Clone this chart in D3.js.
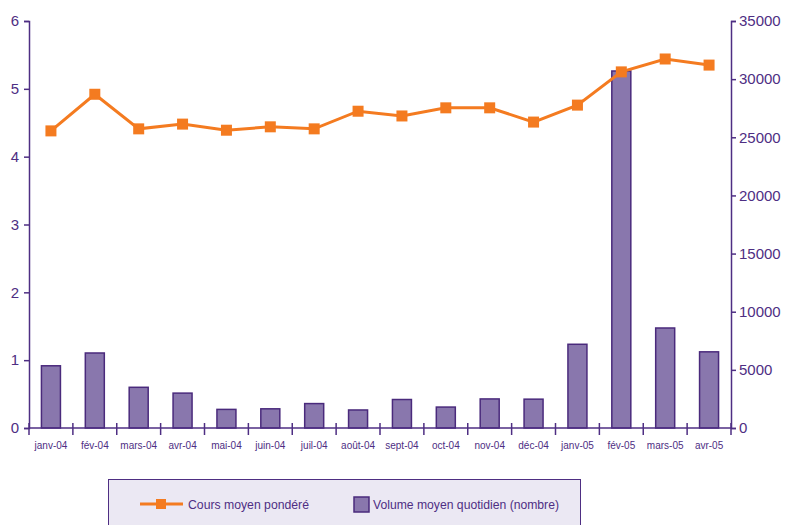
<!DOCTYPE html>
<html><head><meta charset="utf-8">
<script src="https://cdn.jsdelivr.net/npm/d3@7"></script>
<style>body{margin:0;background:#fff}svg{display:block;font-family:"Liberation Sans",Arial,sans-serif}</style>
</head><body>
<script>
const categories = ["janv-04","fév-04","mars-04","avr-04","mai-04","juin-04","juil-04","août-04","sept-04","oct-04","nov-04","déc-04","janv-05","fév-05","mars-05","avr-05"];
const cours = [4.38,4.92,4.41,4.48,4.39,4.44,4.41,4.67,4.60,4.72,4.72,4.51,4.76,5.25,5.44,5.35];
const volume = [5350,6450,3500,3000,1600,1650,2100,1550,2450,1800,2500,2480,7200,30700,8600,6550];
const leftTicks = [0,1,2,3,4,5,6];
const rightTicks = [0,5000,10000,15000,20000,25000,30000,35000];
const seriesNames = ["Cours moyen pondéré","Volume moyen quotidien (nombre)"];

const W=794,H=525;
const purple="#4e2e83", orange="#f47b20", barFill="#8977ad", barStroke="#4a2a7c";
const svg=d3.select("body").append("svg").attr("width",W).attr("height",H);
const x0=29,x1=731,yTop=21,yBot=428;
const x=d3.scaleBand().domain(categories).range([x0,x1]);
const yL=d3.scaleLinear().domain([0,6]).range([yBot,yTop]);
const yR=d3.scaleLinear().domain([0,35000]).range([yBot,yTop]);

// bars
const bw=19;
svg.append("g").selectAll("rect").data(volume).join("rect")
  .attr("x",(d,i)=>x(categories[i])+x.bandwidth()/2-bw/2)
  .attr("y",d=>yR(d)).attr("width",bw).attr("height",d=>yBot-yR(d))
  .attr("fill",barFill).attr("stroke",barStroke).attr("stroke-width",1.5);

// axes
const axL=svg.append("g").attr("transform",`translate(${x0},0)`)
  .call(d3.axisLeft(yL).tickValues(leftTicks).tickSize(5).tickPadding(5).tickFormat(d3.format("d")));
const axR=svg.append("g").attr("transform",`translate(${x1},0)`)
  .call(d3.axisRight(yR).tickValues(rightTicks).tickSize(5).tickPadding(3).tickFormat(d3.format("d")));
[axL,axR].forEach(a=>{a.select(".domain").attr("stroke",purple).attr("stroke-width",1.5);
  a.selectAll(".tick line").attr("stroke",purple).attr("stroke-width",1.5);
  a.selectAll("text").attr("fill",purple).style("font-size","15px").style("font-family","Liberation Sans, Arial, sans-serif");});

// x axis
const xg=svg.append("g");
xg.append("line").attr("x1",x0).attr("x2",x1).attr("y1",yBot).attr("y2",yBot).attr("stroke",purple).attr("stroke-width",1.5);
const bounds=categories.map(c=>x(c)).concat([x1]);
xg.selectAll("line.t").data(bounds).join("line").attr("class","t")
  .attr("x1",d=>d).attr("x2",d=>d).attr("y1",yBot-5).attr("y2",yBot+7).attr("stroke",purple).attr("stroke-width",1.5);
xg.selectAll("text").data(categories).join("text")
  .attr("x",d=>x(d)+x.bandwidth()/2).attr("y",449).attr("text-anchor","middle")
  .attr("fill",purple).style("font-size","10px").text(d=>d);

// line
const line=d3.line().x((d,i)=>x(categories[i])+x.bandwidth()/2).y(d=>yL(d));
svg.append("path").datum(cours).attr("d",line).attr("fill","none").attr("stroke",orange).attr("stroke-width",3);
const ms=11;
svg.append("g").selectAll("rect").data(cours).join("rect")
  .attr("x",(d,i)=>x(categories[i])+x.bandwidth()/2-ms/2).attr("y",d=>yL(d)-ms/2)
  .attr("width",ms).attr("height",ms).attr("fill",orange);

// legend
const lg=svg.append("g");
lg.append("rect").attr("x",108.5).attr("y",479.5).attr("width",472).attr("height",60).attr("fill","#ebe8f3").attr("stroke",purple).attr("stroke-width",1);
lg.append("line").attr("x1",140).attr("x2",183).attr("y1",504).attr("y2",504).attr("stroke",orange).attr("stroke-width",3);
lg.append("rect").attr("x",156).attr("y",499).attr("width",10).attr("height",10).attr("fill",orange);
lg.append("text").attr("x",188).attr("y",509).attr("fill",purple).style("font-size","13.5px")
  .attr("textLength",121).attr("lengthAdjust","spacingAndGlyphs").text(seriesNames[0]);
lg.append("rect").attr("x",354).attr("y",497).attr("width",15).attr("height",15).attr("fill",barFill).attr("stroke",barStroke).attr("stroke-width",1.5);
lg.append("text").attr("x",373).attr("y",509).attr("fill",purple).style("font-size","13.5px")
  .attr("textLength",186).attr("lengthAdjust","spacingAndGlyphs").text(seriesNames[1]);
</script>
</body></html>
